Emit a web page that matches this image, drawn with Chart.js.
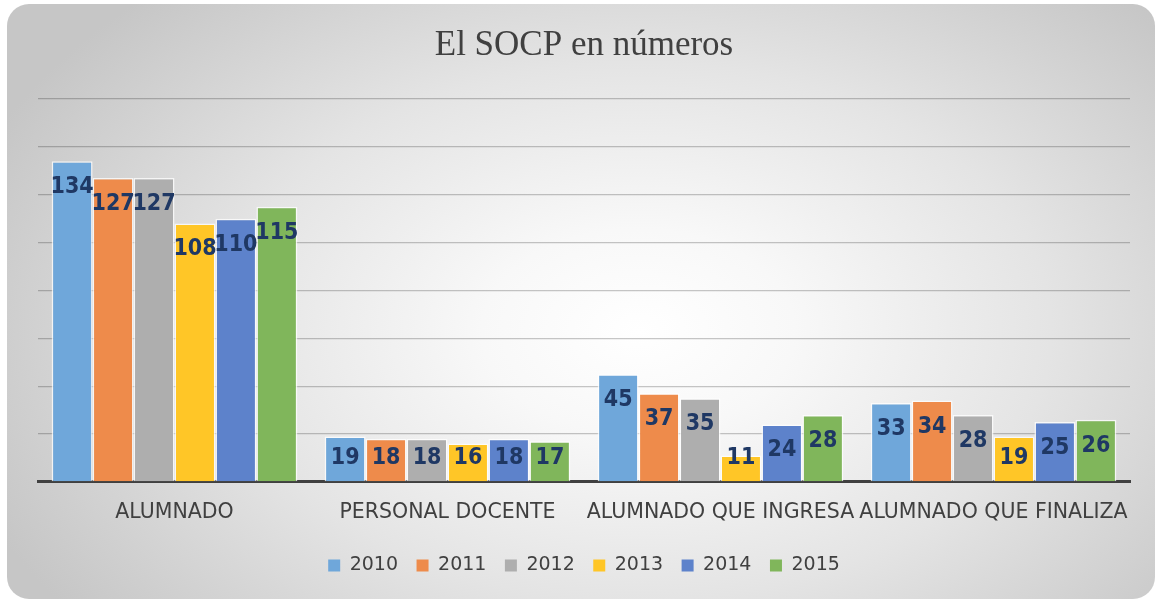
<!DOCTYPE html>
<html lang="es">
<head>
    <meta charset="UTF-8">
    <title>El SOCP en números</title>
    <script src="https://cdn.jsdelivr.net/npm/chart.js"></script>
    <style>
        html, body { margin: 0; padding: 0; background: #ffffff; }
        .tarjeta { position: absolute; left: 7px; top: 4px; width: 1148px; height: 595px; border-radius: 22px;
            background: radial-gradient(ellipse 62% 78% at 55% 55%, #ffffff 0%, #f8f8f8 22%, #e4e4e4 58%, #c6c6c6 100%); }
        .grafico { position: absolute; left: 0; top: 0; width: 1155px; height: 601px; }
    </style>
</head>
<body>
    <div class="tarjeta"></div>
    <div class="grafico"><canvas id="grafico" width="1155" height="601"></canvas></div>

    <script>
        const categorias = ['ALUMNADO', 'PERSONAL DOCENTE', 'ALUMNADO QUE INGRESA', 'ALUMNADO QUE FINALIZA'];
        const anios = ['2010', '2011', '2012', '2013', '2014', '2015'];
        const v2010 = [134, 19, 45, 33];
        const v2011 = [127, 18, 37, 34];
        const v2012 = [127, 18, 35, 28];
        const v2013 = [108, 16, 11, 19];
        const v2014 = [110, 18, 24, 25];
        const v2015 = [115, 17, 28, 26];
        const valores = [v2010, v2011, v2012, v2013, v2014, v2015];
        const colores = ['#6fa7da', '#ee8b4b', '#aeaeae', '#ffc627', '#5d82cb', '#80b65b'];

        // etiquetas de datos dentro del extremo de cada barra
        const etiquetas = {
            id: 'etiquetas',
            afterDatasetsDraw(chart) {
                const ctx = chart.ctx;
                const base = chart.scales.y.getPixelForValue(0);
                ctx.save();
                ctx.font = "bold 23px 'DejaVu Sans Condensed', 'DejaVu Sans'";
                ctx.fillStyle = '#1f3864';
                ctx.textAlign = 'center';
                ctx.textBaseline = 'middle';
                chart.data.datasets.forEach((ds, i) => {
                    chart.getDatasetMeta(i).data.forEach((bar, j) => {
                        const y = Math.min(bar.y + 26, base - 24);
                        ctx.fillText(String(ds.data[j]), bar.x, y);
                    });
                });
                ctx.restore();
            }
        };

        const ctx = document.getElementById('grafico').getContext('2d');
        new Chart(ctx, {
            type: 'bar',
            data: {
                labels: categorias,
                datasets: anios.map((a, i) => ({
                    label: a,
                    data: valores[i],
                    backgroundColor: colores[i],
                    borderColor: 'rgba(255,255,255,0.75)',
                    borderWidth: 1.5,
                    categoryPercentage: 0.9,
                    barPercentage: 1
                }))
            },
            options: {
                responsive: false,
                animation: false,
                layout: { padding: { left: 38, right: 25, top: 0, bottom: 16 } },
                plugins: {
                    title: {
                        display: true,
                        text: 'El SOCP en números',
                        color: '#404040',
                        font: { family: "'Liberation Serif', serif", size: 35, weight: 'normal' },
                        padding: { top: 25, bottom: 32 }
                    },
                    legend: {
                        position: 'bottom',
                        // título vacío con relleno negativo: acerca la leyenda al eje
                        title: { display: true, text: '', font: { size: 1, lineHeight: 1 }, padding: { top: 0, bottom: -7 } },
                        labels: {
                            color: '#404040',
                            font: { family: "'DejaVu Sans', sans-serif", size: 19, lineHeight: 1 },
                            boxWidth: 12,
                            boxHeight: 12,
                            padding: 18.5,
                            generateLabels(chart) {
                                return Chart.defaults.plugins.legend.labels.generateLabels(chart).map(l => {
                                    l.strokeStyle = l.fillStyle;
                                    l.lineWidth = 0;
                                    return l;
                                });
                            }
                        }
                    },
                    tooltip: { enabled: false }
                },
                scales: {
                    x: {
                        grid: { display: false, drawTicks: false },
                        border: { display: true, color: '#404040', width: 3 },
                        ticks: {
                            color: '#404040',
                            font: { family: "'DejaVu Sans', sans-serif", size: 20.5 },
                            padding: 18.5,
                            autoSkip: false,
                            maxRotation: 0,
                            minRotation: 0
                        }
                    },
                    y: {
                        min: 0,
                        max: 160,
                        ticks: { display: false, stepSize: 20 },
                        grid: { color: 'rgba(0,0,0,0.22)', lineWidth: 1.3, drawTicks: false },
                        border: { display: false }
                    }
                }
            },
            plugins: [etiquetas]
        });
    </script>
</body>
</html>
